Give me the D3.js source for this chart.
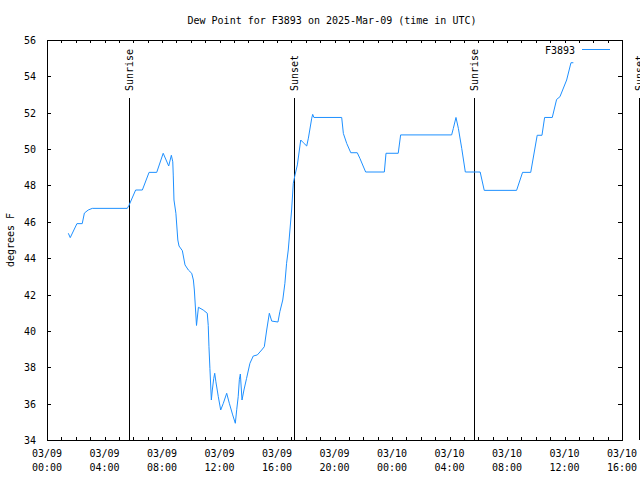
<!DOCTYPE html>
<html>
<head>
<meta charset="utf-8">
<script src="https://cdn.jsdelivr.net/npm/d3@7"></script>
<style>
  html, body { margin: 0; padding: 0; background: #fff; }
  svg { display: block; }
  text { font-family: "DejaVu Sans Mono", monospace; font-size: 10px; fill: #000; }
</style>
</head>
<body>
<svg id="chart" width="640" height="480"></svg>
<script>
// ---- data ----
const title = "Dew Point for F3893 on 2025-Mar-09 (time in UTC)";
const seriesName = "F3893";
const yLabel = "degrees F";
const times = [
  "2025-03-09T01:29","2025-03-09T01:37","2025-03-09T02:05","2025-03-09T02:27","2025-03-09T02:36",
  "2025-03-09T02:52","2025-03-09T03:09","2025-03-09T05:35","2025-03-09T05:42","2025-03-09T06:10",
  "2025-03-09T06:38","2025-03-09T07:06","2025-03-09T07:38","2025-03-09T08:05","2025-03-09T08:28",
  "2025-03-09T08:39","2025-03-09T08:45","2025-03-09T08:47","2025-03-09T08:50","2025-03-09T08:58",
  "2025-03-09T09:06","2025-03-09T09:11","2025-03-09T09:25","2025-03-09T09:36","2025-03-09T09:50",
  "2025-03-09T10:04","2025-03-09T10:11","2025-03-09T10:15","2025-03-09T10:24","2025-03-09T10:32",
  "2025-03-09T10:52","2025-03-09T11:09","2025-03-09T11:13","2025-03-09T11:16","2025-03-09T11:20",
  "2025-03-09T11:26","2025-03-09T11:30","2025-03-09T11:36","2025-03-09T11:40","2025-03-09T11:45",
  "2025-03-09T11:55","2025-03-09T12:05","2025-03-09T12:16","2025-03-09T12:30","2025-03-09T12:41",
  "2025-03-09T12:55","2025-03-09T13:06","2025-03-09T13:12","2025-03-09T13:18","2025-03-09T13:23",
  "2025-03-09T13:27","2025-03-09T13:34","2025-03-09T13:42","2025-03-09T13:53","2025-03-09T14:07",
  "2025-03-09T14:21","2025-03-09T14:38","2025-03-09T14:56","2025-03-09T15:07","2025-03-09T15:17",
  "2025-03-09T15:28","2025-03-09T15:38","2025-03-09T16:04","2025-03-09T16:12","2025-03-09T16:24",
  "2025-03-09T16:33","2025-03-09T16:40","2025-03-09T16:47","2025-03-09T17:01","2025-03-09T17:08",
  "2025-03-09T17:15","2025-03-09T17:25","2025-03-09T17:39","2025-03-09T17:50","2025-03-09T18:04",
  "2025-03-09T18:11","2025-03-09T18:25","2025-03-09T18:29","2025-03-09T18:34","2025-03-09T20:30",
  "2025-03-09T20:37","2025-03-09T20:51","2025-03-09T21:08","2025-03-09T21:35","2025-03-09T21:46",
  "2025-03-09T22:10","2025-03-09T23:28","2025-03-09T23:35","2025-03-10T00:26","2025-03-10T00:36",
  "2025-03-10T04:09","2025-03-10T04:16","2025-03-10T04:27","2025-03-10T04:37","2025-03-10T04:51",
  "2025-03-10T05:06","2025-03-10T06:08","2025-03-10T06:25","2025-03-10T08:40","2025-03-10T09:05",
  "2025-03-10T09:39","2025-03-10T10:06","2025-03-10T10:26","2025-03-10T10:37","2025-03-10T11:09",
  "2025-03-10T11:27","2025-03-10T11:41","2025-03-10T12:09","2025-03-10T12:27","2025-03-10T12:37"
];
const dewpoint = [
  45.37,45.13,45.9,45.9,46.48,
  46.65,46.74,46.74,46.9,47.75,
  47.75,48.72,48.72,49.77,49.07,
  49.66,49.3,48.57,47.2,46.47,
  45.0,44.67,44.41,43.63,43.35,
  43.17,42.8,42.25,40.3,41.3,
  41.15,40.97,40.3,39.13,37.94,
  36.2,36.75,37.39,37.67,37.2,
  36.38,35.65,36.02,36.57,36.02,
  35.38,34.92,35.69,36.38,37.34,
  37.63,36.2,36.75,37.39,38.22,
  38.62,38.68,38.95,39.13,40.05,
  40.97,40.54,40.49,41.06,41.7,
  42.62,43.72,44.45,46.65,48.12,
  48.57,49.13,50.5,50.35,50.17,
  50.6,51.7,51.91,51.74,51.74,
  50.86,50.31,49.8,49.8,49.49,
  48.74,48.74,49.77,49.77,50.78,
  50.78,51.14,51.74,51.14,50.04,
  48.74,48.74,47.73,47.73,48.72,
  48.72,50.76,50.76,51.74,51.74,
  52.73,52.88,53.8,54.75,54.75
];
const sunEvents = [
  {label: "Sunrise", time: "2025-03-09T05:44"},
  {label: "Sunset",  time: "2025-03-09T17:11"},
  {label: "Sunrise", time: "2025-03-10T05:43"},
  {label: "Sunset",  time: "2025-03-10T17:12"}
];
const xDomain = ["2025-03-09T00:00", "2025-03-10T16:00"];
const yDomain = [34, 56];
const yTicks = [34, 36, 38, 40, 42, 44, 46, 48, 50, 52, 54, 56];

// ---- drawing ----
const parse = d3.utcParse("%Y-%m-%dT%H:%M");
const svg = d3.select("#chart");
const L = 47, R = 622, T = 40, B = 440;

const x = d3.scaleUtc().domain(xDomain.map(parse)).range([L, R]);
const y = d3.scaleLinear().domain(yDomain).range([B, T]);

const data = times.map((t, i) => ({t: parse(t), v: dewpoint[i]}));

// title
svg.append("text").attr("x", 332).attr("y", 24).attr("text-anchor", "middle").text(title);

// y label
svg.append("text")
  .attr("transform", `translate(14,240) rotate(-90)`)
  .attr("text-anchor", "middle").text(yLabel);

// x ticks (bottom, inward) with two-line labels
const majorX = x.ticks(d3.utcHour.every(4));
const minorX = x.ticks(d3.utcHour.every(1));
const fmtDate = d3.utcFormat("%m/%d"), fmtTime = d3.utcFormat("%H:%M");

const xAxisB = d3.axisBottom(x).tickValues(minorX).tickSize(-3).tickFormat("");
svg.append("g").attr("transform", `translate(0,${B})`).call(xAxisB)
  .call(g => g.select(".domain").remove());
const xAxisT = d3.axisTop(x).tickValues(minorX).tickSize(-3).tickFormat("");
svg.append("g").attr("transform", `translate(0,${T})`).call(xAxisT)
  .call(g => g.select(".domain").remove());

const xLab = svg.append("g");
majorX.forEach(d => {
  const t = xLab.append("text").attr("text-anchor", "middle");
  t.append("tspan").attr("x", x(d)).attr("y", 457).text(fmtDate(d));
  t.append("tspan").attr("x", x(d)).attr("y", 471).text(fmtTime(d));
});

// y ticks inward on both sides
const yAxisL = d3.axisLeft(y).tickValues(yTicks).tickSize(-4).tickPadding(11);
svg.append("g").attr("transform", `translate(${L},0)`).call(yAxisL)
  .call(g => g.select(".domain").remove())
  .call(g => g.selectAll("text").attr("font-family", "DejaVu Sans Mono").attr("font-size", 10).attr("dy", "0.35em"));
const yAxisR = d3.axisRight(y).tickValues(yTicks).tickSize(-4).tickFormat("");
svg.append("g").attr("transform", `translate(${R},0)`).call(yAxisR)
  .call(g => g.select(".domain").remove());

svg.selectAll(".tick line").attr("stroke", "#000").attr("shape-rendering", "crispEdges");

// frame
svg.append("rect").attr("x", L).attr("y", T).attr("width", R - L).attr("height", B - T)
  .attr("fill", "none").attr("stroke", "#000").attr("shape-rendering", "crispEdges");

// sunrise / sunset markers
sunEvents.forEach(e => {
  const px = Math.round(x(parse(e.time))) + 0.5;
  svg.append("line").attr("x1", px).attr("x2", px).attr("y1", 98).attr("y2", B)
    .attr("stroke", "#000").attr("stroke-width", 1);
  svg.append("text")
    .attr("transform", `translate(${px + 3.5},91) rotate(-90)`)
    .attr("text-anchor", "start").text(e.label);
});

// data line
const line = d3.line().x(d => x(d.t)).y(d => y(d.v));
svg.append("path").datum(data).attr("d", line)
  .attr("fill", "none").attr("stroke", "#1e90ff").attr("stroke-width", 1);

// legend
svg.append("text").attr("x", 575).attr("y", 53.5).attr("text-anchor", "end").text(seriesName);
svg.append("line").attr("x1", 582).attr("x2", 610).attr("y1", 49.5).attr("y2", 49.5)
  .attr("stroke", "#1e90ff").attr("stroke-width", 1);
</script>
</body>
</html>
